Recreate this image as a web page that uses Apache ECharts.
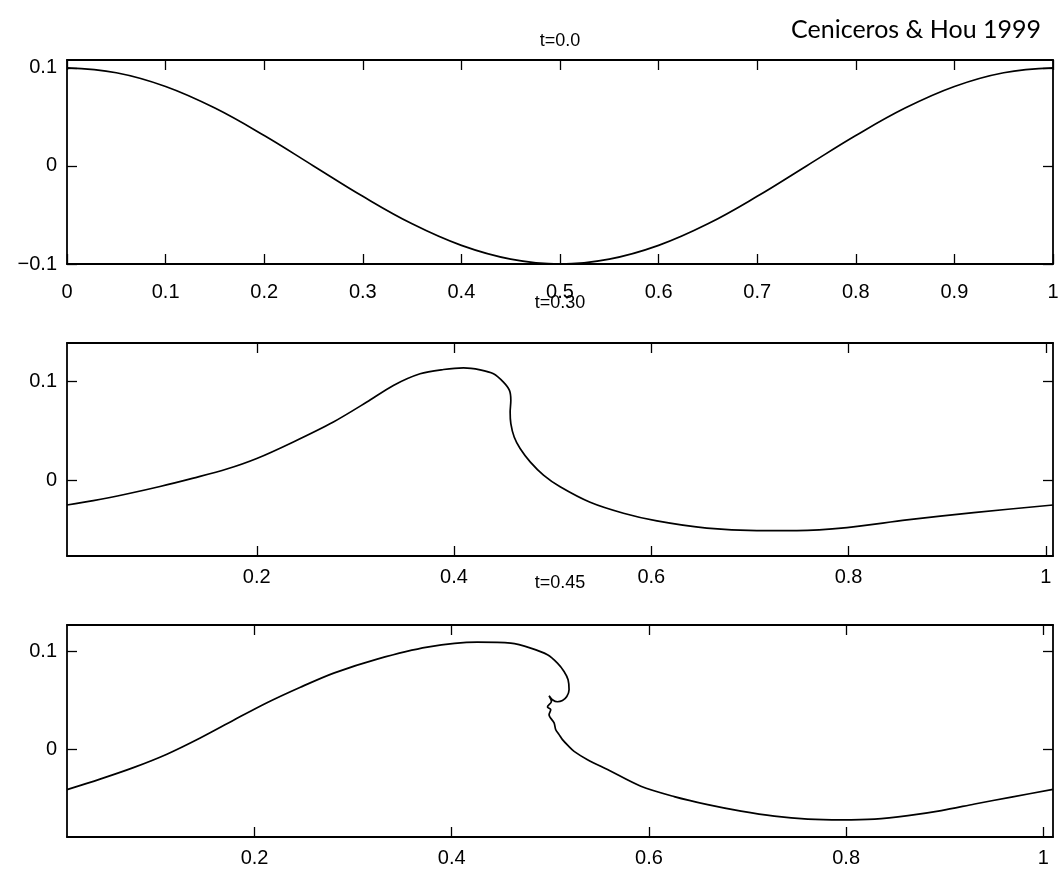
<!DOCTYPE html>
<html>
<head>
<meta charset="utf-8">
<script src="https://cdn.jsdelivr.net/npm/echarts@6/dist/echarts.min.js"></script>
<style>
html,body{margin:0;padding:0;background:#fff;}
#c{width:1063px;height:870px;}
</style>
</head>
<body>
<div id="c"></div>
<script>
// ---- data ----
const titles = ['t=0.0', 't=0.30', 't=0.45'];
const sourceNote = 'Ceniceros & Hou 1999';

// t = 0.0
const t0X = [0,0.05,0.1,0.15,0.2,0.25,0.3,0.35,0.4,0.45,0.5,0.55,0.6,0.65,0.7,0.75,0.8,0.85,0.9,0.95,1];
const t0Y = [0.1,0.095,0.081,0.059,0.031,0.0,-0.031,-0.059,-0.081,-0.095,-0.1,-0.095,-0.081,-0.059,-0.031,0.0,0.031,0.059,0.081,0.095,0.1];

// t = 0.30
const t30X = [0.0076,0.0343,0.0681,0.1019,0.1357,0.1696,0.2000,0.2371,0.2777,0.3116,0.3385,0.3656,0.3893,0.4096,0.4265,0.4400,0.4501,0.4562,0.4576,0.4569,0.4576,0.4610,0.4670,0.4772,0.4907,0.5076,0.5380,0.5718,0.6057,0.6564,0.7071,0.7477,0.7984,0.8592,0.9268,1.0073];
const t30Y = [-0.0253,-0.0209,-0.0141,-0.0065,0.0020,0.0112,0.0219,0.0387,0.0589,0.0791,0.0960,0.1078,0.1121,0.1138,0.1118,0.1078,0.0993,0.0909,0.0808,0.0690,0.0573,0.0437,0.0320,0.0185,0.0051,-0.0068,-0.0225,-0.0336,-0.0414,-0.0488,-0.0512,-0.0512,-0.0482,-0.0404,-0.0330,-0.0253];

// t = 0.45
const t45X = [0.0098,0.0433,0.0771,0.1111,0.1449,0.1787,0.2126,0.2465,0.2803,0.3244,0.3752,0.4259,0.4598,0.4801,0.4971,0.5072,0.5139,0.5180,0.5190,0.5167,0.5123,0.5072,0.5021,0.4987,0.5011,0.4971,0.5004,0.4987,0.5038,0.5055,0.5089,0.5123,0.5180,0.5241,0.5377,0.5580,0.5918,0.6256,0.6596,0.6934,0.7272,0.7611,0.7950,0.8288,0.8627,0.8965,0.9304,0.9676,1.0098];
const t45Y = [-0.0407,-0.0300,-0.0183,-0.0046,0.0119,0.0300,0.0478,0.0636,0.0780,0.0923,0.1045,0.1096,0.1085,0.1035,0.0967,0.0882,0.0797,0.0712,0.0610,0.0542,0.0501,0.0488,0.0509,0.0549,0.0491,0.0434,0.0407,0.0356,0.0272,0.0203,0.0153,0.0102,0.0041,-0.0017,-0.0102,-0.0203,-0.0373,-0.0478,-0.0560,-0.0626,-0.0677,-0.0707,-0.0715,-0.0707,-0.0672,-0.0621,-0.0554,-0.0483,-0.0405];

// ticks
const xTicks1 = [0,0.1,0.2,0.3,0.4,0.5,0.6,0.7,0.8,0.9,1];
const xLabels1 = ['0','0.1','0.2','0.3','0.4','0.5','0.6','0.7','0.8','0.9','1'];
const xTicks23 = [0.2,0.4,0.6,0.8,1];
const xLabels23 = ['0.2','0.4','0.6','0.8','1'];
const yTicks1 = [-0.1,0,0.1];
const yLabels1 = ['\u22120.1','0','0.1'];
const yTicks23 = [0,0.1];
const yLabels23 = ['0','0.1'];

// ranges
const xRanges = [[0,1],[0.0076,1.0073],[0.0098,1.0098]];
const yRanges = [[-0.1,0.108],[-0.077,0.139],[-0.089,0.127]];

function pairs(xs, ys){ return xs.map((x,i)=>[x, ys[i]]); }
function labelFor(ticks, labels){
  return function(v){
    for (let i=0;i<ticks.length;i++){ if (Math.abs(ticks[i]-v) < 1e-6) return labels[i]; }
    return '';
  };
}

const font = 'Liberation Sans';
const lineStyle = {color:'#000', width:1.7};

const grids = [
  {left:67, top:60, width:986, height:204},
  {left:67, top:343, width:986, height:213},
  {left:67, top:625, width:986, height:212}
];

const xAxes = [], yAxes = [];
const xTickSets = [xTicks1, xTicks23, xTicks23];
const xLabelSets = [xLabels1, xLabels23, xLabels23];
const yTickSets = [yTicks1, yTicks23, yTicks23];
const yLabelSets = [yLabels1, yLabels23, yLabels23];
const xMargins = [18, 11, 11];

for (let g=0; g<3; g++){
  ['bottom','top'].forEach((pos, k)=>{
    xAxes.push({
      type:'value', gridIndex:g, position:pos,
      min:xRanges[g][0], max:xRanges[g][1],
      axisLine:{show:true, onZero:false, lineStyle:{color:'#000', width:1.8}},
      axisTick:{show:true, inside:true, length:10, customValues:xTickSets[g], lineStyle:{color:'#000', width:1.3}},
      axisLabel:{show:k===0, customValues:xTickSets[g], formatter:labelFor(xTickSets[g], xLabelSets[g]),
        color:'#000', fontFamily:font, fontSize:20, margin:xMargins[g], hideOverlap:false},
      splitLine:{show:false}
    });
  });
  ['left','right'].forEach((pos, k)=>{
    yAxes.push({
      type:'value', gridIndex:g, position:pos,
      min:yRanges[g][0], max:yRanges[g][1],
      axisLine:{show:true, onZero:false, lineStyle:{color:'#000', width:1.8}},
      axisTick:{show:true, inside:true, length:10, customValues:yTickSets[g], lineStyle:{color:'#000', width:1.3}},
      axisLabel:{show:k===0, customValues:yTickSets[g], formatter:labelFor(yTickSets[g], yLabelSets[g]),
        color:'#000', fontFamily:font, fontSize:20, margin:10, hideOverlap:false},
      splitLine:{show:false}
    });
  });
}

const series = [
  {type:'line', xAxisIndex:0, yAxisIndex:0, data:pairs(t0X,t0Y), smooth:0.4, showSymbol:false, lineStyle:lineStyle, silent:true, animation:false},
  {type:'line', xAxisIndex:2, yAxisIndex:2, data:pairs(t30X,t30Y), smooth:0.3, showSymbol:false, lineStyle:lineStyle, silent:true, animation:false},
  {type:'line', xAxisIndex:4, yAxisIndex:4, data:pairs(t45X,t45Y), smooth:0.3, showSymbol:false, lineStyle:lineStyle, silent:true, animation:false}
];

const titleTops = [32, 294, 574];
const titleOpts = titles.map((t,i)=>({
  text:t, left:560, top:titleTops[i], textAlign:'center', padding:0,
  textStyle:{color:'#000', fontFamily:font, fontSize:18, fontWeight:'normal'}
}));
titleOpts.push({
  text:sourceNote, right:22, top:17, padding:0,
  textStyle:{color:'#000', fontFamily:'Lato', fontSize:25, fontWeight:'normal'}
});

const chart = echarts.init(document.getElementById('c'), null, {renderer:'canvas'});
chart.setOption({
  backgroundColor:'#fff',
  animation:false,
  title:titleOpts,
  grid:grids,
  xAxis:xAxes,
  yAxis:yAxes,
  series:series
});
</script>
</body>
</html>
